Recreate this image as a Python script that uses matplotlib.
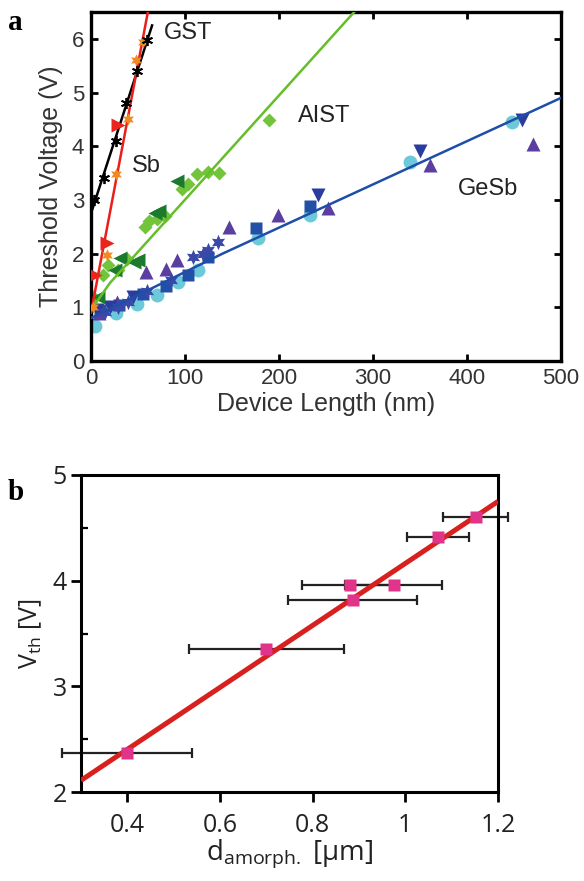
import numpy as np
import matplotlib
matplotlib.use("Agg")
import matplotlib.pyplot as plt
from matplotlib.ticker import MultipleLocator

# ---- panel a : threshold voltage vs device length ----
gst_x = [3, 14, 27, 37, 49, 60]
gst_y = [3.0, 3.4, 4.1, 4.8, 5.4, 5.97]
gst_fit_x = [0, 65]
gst_fit_y = [2.75, 6.25]

sb_tri_x = [4, 17, 29]
sb_tri_y = [1.6, 2.2, 4.4]
sb_star_x = [2, 17, 27, 39, 48, 55]
sb_star_y = [1.0, 1.97, 3.49, 4.5, 5.6, 5.95]
sb_fit_x = [0, 60.5]
sb_fit_y = [0.9, 6.5]

aist_dia_x = [2, 13, 18, 29, 38, 57, 62, 70, 79, 97, 103, 113, 124, 136, 189]
aist_dia_y = [1.2, 1.6, 1.78, 1.7, 1.9, 2.5, 2.6, 2.65, 2.7, 3.2, 3.3, 3.48, 3.52, 3.5, 4.48]
aist_tri_x = [7, 26, 31, 46, 50, 68, 72, 91]
aist_tri_y = [1.2, 1.7, 1.91, 1.84, 1.88, 2.75, 2.8, 3.35]
aist_fit_x = [0, 20, 280]
aist_fit_y = [0.95, 1.45, 6.5]

gesb_circ_x = [4, 27, 49, 70, 93, 114, 178, 233, 339, 448]
gesb_circ_y = [0.65, 0.9, 1.07, 1.23, 1.47, 1.7, 2.3, 2.72, 3.7, 4.45]
gesb_sq_x = [10, 30, 55, 80, 103, 124, 176, 233]
gesb_sq_y = [0.95, 1.05, 1.25, 1.4, 1.6, 1.93, 2.47, 2.88]
gesb_up_x = [9, 28, 59, 80, 91, 147, 199, 252, 361, 470]
gesb_up_y = [0.9, 1.1, 1.65, 1.72, 1.88, 2.5, 2.72, 2.85, 3.65, 4.05]
gesb_dn_x = [6, 20, 45, 242, 350, 459]
gesb_dn_y = [0.95, 1.0, 1.2, 3.09, 3.92, 4.48]
gesb_star_x = [15, 29, 39, 60, 85, 108, 119, 124, 135]
gesb_star_y = [0.92, 1.0, 1.1, 1.3, 1.5, 1.93, 2.0, 2.07, 2.22]
gesb_fit_x = [0, 140, 500]
gesb_fit_y = [0.8, 2.0, 4.9]

# ---- panel b : Vth vs amorphous thickness ----
d_am = [0.40, 0.70, 0.88, 0.975, 0.886, 1.07, 1.152]
v_th = [2.365, 3.35, 3.96, 3.96, 3.82, 4.41, 4.60]
d_err = [0.14, 0.167, 0.103, 0.105, 0.14, 0.067, 0.07]
fit_d = [0.3, 1.2]
fit_v = [2.11, 4.75]

W, H = 584, 881
fig = plt.figure(figsize=(W / 100, H / 100), dpi=100)


def rect(l, t, r, b):
    return [l / W, 1 - b / H, (r - l) / W, (b - t) / H]


# panel a
sans = "Liberation Sans"
ax1 = fig.add_axes(rect(91, 12, 561, 361))
ax1.plot(gst_fit_x, gst_fit_y, color="black", lw=1.8, zorder=3)
ax1.plot(sb_fit_x, sb_fit_y, color="#ea1f1a", lw=1.8, zorder=3)
ax1.plot(aist_fit_x, aist_fit_y, color="#66bd2b", lw=1.8, zorder=3)
ax1.plot(gesb_fit_x, gesb_fit_y, color="#1f4ea8", lw=1.8, zorder=3)

ax1.plot(gesb_circ_x, gesb_circ_y, "o", color="#6cc9d9", ms=10, mec="none", zorder=2)
ax1.plot(gesb_sq_x, gesb_sq_y, "s", color="#2250a6", ms=9, mec="none", zorder=2)
ax1.plot(gesb_up_x, gesb_up_y, "^", color="#5a3ea0", ms=10.5, mec="none", zorder=2)
ax1.plot(gesb_dn_x, gesb_dn_y, "v", color="#2b3d9c", ms=10.5, mec="none", zorder=2)
ax1.plot(gesb_star_x, gesb_star_y, marker=(6, 1, 0), ls="none", color="#3a48a8", ms=11, mec="none", zorder=2)

ax1.plot(aist_dia_x, aist_dia_y, "D", color="#72c43a", ms=7.5, mec="none", zorder=2)
ax1.plot(aist_tri_x, aist_tri_y, "<", color="#1b7a2c", ms=10.5, mec="none", zorder=2)

ax1.plot(sb_tri_x, sb_tri_y, ">", color="#e8241c", ms=10.5, mec="none", zorder=4)
ax1.plot(sb_star_x, sb_star_y, marker=(6, 1, 0), ls="none", color="#f28a24", ms=9, mec="none", zorder=4)
ax1.plot(gst_x, gst_y, marker=(6, 2, 0), ls="none", color="black", ms=8, mew=1.3, zorder=5)

ax1.text(77, 6.1, "GST", fontsize=17, family=sans, color="#222222", va="center")
ax1.text(43, 3.64, "Sb", fontsize=17, family=sans, color="#222222", va="center")
ax1.text(220, 4.57, "AIST", fontsize=17, family=sans, color="#222222", va="center")
ax1.text(390, 3.2, "GeSb", fontsize=17, family=sans, color="#222222", va="center")

ax1.set_xlim(0, 500)
ax1.set_ylim(0, 6.5)
ax1.xaxis.set_major_locator(MultipleLocator(100))
ax1.yaxis.set_major_locator(MultipleLocator(1))
ax1.tick_params(direction="in", top=True, right=True, length=5, width=2,
                labelsize=16, pad=5, colors="black")
for lab in ax1.get_xticklabels() + ax1.get_yticklabels():
    lab.set_family(sans)
    lab.set_color("#333333")
for sp in ax1.spines.values():
    sp.set_linewidth(2.4)
ax1.set_xlabel("Device Length (nm)", fontsize=18, family=sans, color="#333333", labelpad=2)
ax1.set_ylabel("Threshold Voltage (V)", fontsize=18, family=sans, color="#333333", labelpad=6)
fig.text(8 / W, 1 - 30 / H, "a", fontsize=21, family="Liberation Serif", weight="bold")

# panel b
hum = "Open Sans"
plt.rcParams["mathtext.default"] = "regular"
plt.rcParams["mathtext.fontset"] = "custom"
plt.rcParams["mathtext.rm"] = hum
ax2 = fig.add_axes(rect(81, 475, 498, 792))
ax2.plot(fit_d, fit_v, color="#d8201e", lw=3.6, solid_capstyle="butt", zorder=3)
ax2.errorbar(d_am, v_th, xerr=d_err, fmt="none", ecolor="#222222", elinewidth=1.6,
             capsize=3.5, capthick=1.6, zorder=2, clip_on=False)
ax2.plot(d_am, v_th, "s", color="#e0338a", ms=8, mec="none", zorder=4)

ax2.set_xlim(0.3, 1.2)
ax2.set_ylim(2, 5)
ax2.set_xticks([0.4, 0.6, 0.8, 1.0, 1.2])
ax2.set_xticklabels(["0.4", "0.6", "0.8", "1", "1.2"])
ax2.set_yticks([2, 3, 4, 5])
ax2.yaxis.set_minor_locator(MultipleLocator(0.5))
ax2.tick_params(which="major", direction="out", length=7, width=2, labelsize=18, pad=3)
ax2.tick_params(axis="x", which="major", pad=8)
ax2.tick_params(axis="y", which="minor", direction="in", length=5, width=1.6)
ax2.tick_params(axis="x", which="minor", length=0)
for lab in ax2.get_xticklabels() + ax2.get_yticklabels():
    lab.set_family(hum)
    lab.set_color("#222222")
for sp in ax2.spines.values():
    sp.set_linewidth(2.2)
ax2.set_xlabel(r"d$_{amorph.}$ [μm]", fontsize=20, family=hum, color="#222222", labelpad=0)
ax2.set_ylabel(r"V$_{th}$ [V]", fontsize=18, family=hum, color="#222222", labelpad=6)
fig.text(8 / W, 1 - 500 / H, "b", fontsize=21, family="Liberation Serif", weight="bold")

fig.savefig("out.png", dpi=100)
